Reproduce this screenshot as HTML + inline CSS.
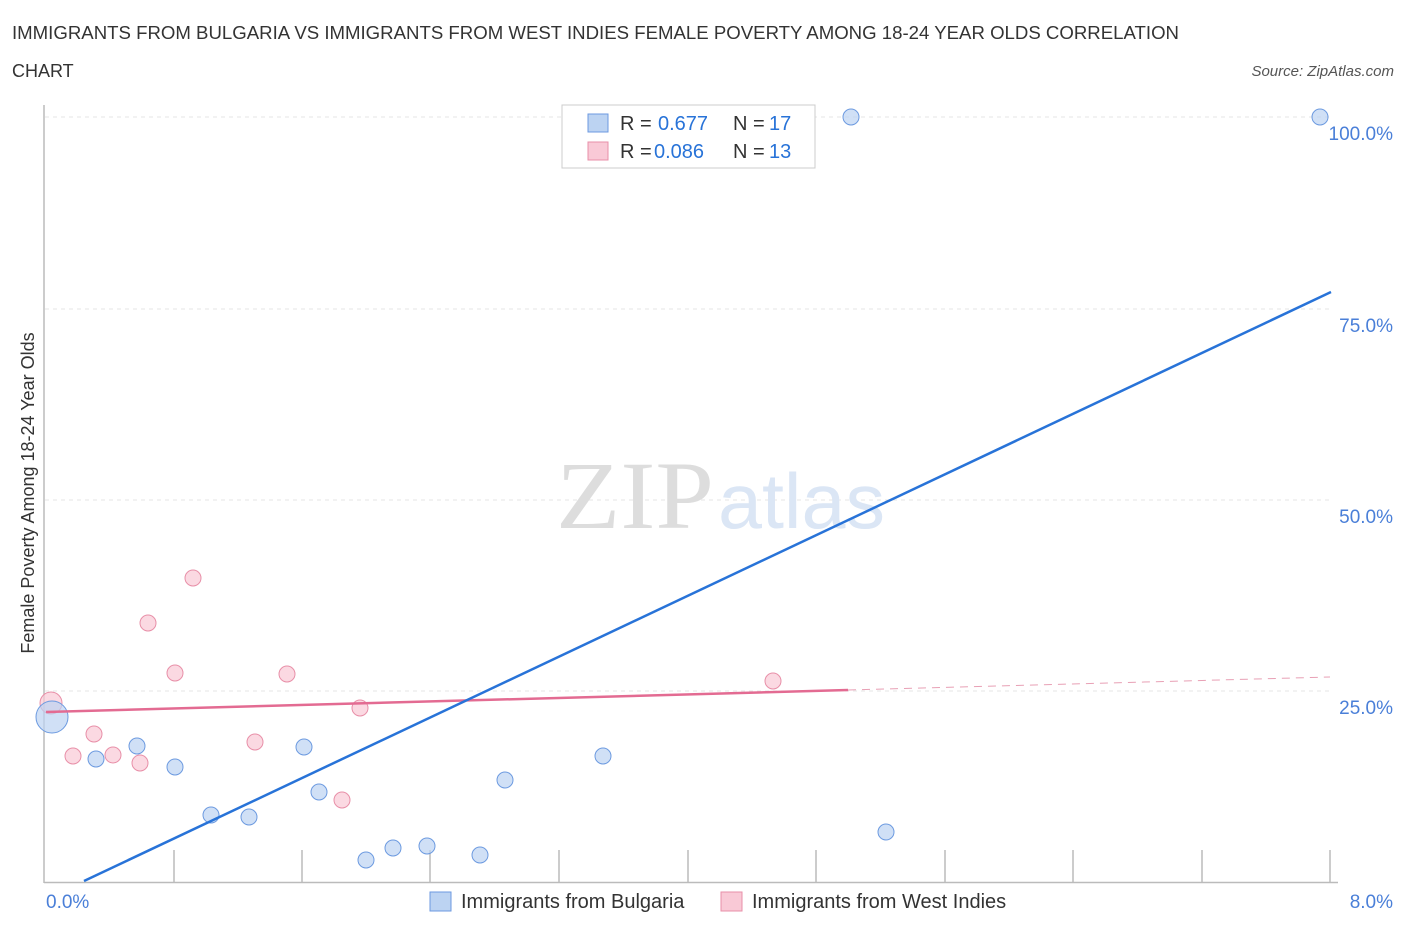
<!DOCTYPE html>
<html><head><meta charset="utf-8"><style>
body{margin:0;background:#fff;font-family:"Liberation Sans",sans-serif}
</style></head><body>
<svg width="1406" height="930" xmlns="http://www.w3.org/2000/svg" font-family="Liberation Sans, sans-serif">
<text x="12" y="39" font-size="18" fill="#333" textLength="1167" lengthAdjust="spacingAndGlyphs">IMMIGRANTS FROM BULGARIA VS IMMIGRANTS FROM WEST INDIES FEMALE POVERTY AMONG 18-24 YEAR OLDS CORRELATION</text>
<text x="12" y="77" font-size="18" fill="#333">CHART</text>
<text x="1394" y="76" font-size="15" fill="#555" font-style="italic" text-anchor="end">Source: ZipAtlas.com</text>
<g stroke="#e6e6e6" stroke-dasharray="4,4">
<line x1="45" y1="117" x2="1330" y2="117"/><line x1="45" y1="309" x2="1330" y2="309"/>
<line x1="45" y1="500" x2="1330" y2="500"/><line x1="45" y1="691" x2="1330" y2="691"/>
</g>
<g stroke="#bbb" stroke-width="1.5">
<line x1="44" y1="105" x2="44" y2="883"/><line x1="44" y1="882.5" x2="1338" y2="882.5"/>
<line x1="174" y1="850" x2="174" y2="882"/><line x1="302" y1="850" x2="302" y2="882"/><line x1="430" y1="850" x2="430" y2="882"/><line x1="559" y1="850" x2="559" y2="882"/><line x1="688" y1="850" x2="688" y2="882"/><line x1="816" y1="850" x2="816" y2="882"/><line x1="945" y1="850" x2="945" y2="882"/><line x1="1073" y1="850" x2="1073" y2="882"/><line x1="1202" y1="850" x2="1202" y2="882"/><line x1="1330" y1="850" x2="1330" y2="882"/>
</g>
<text x="714" y="528" font-size="96" fill="#ddd" text-anchor="end" font-family="Liberation Serif, serif" textLength="158" lengthAdjust="spacingAndGlyphs">ZIP</text>
<text x="718" y="528" font-size="78" fill="#dbe6f5" textLength="167" lengthAdjust="spacingAndGlyphs">atlas</text>
<g fill="#4a7fd8" font-size="19" text-anchor="end">
<text x="1393" y="140">100.0%</text><text x="1393" y="332">75.0%</text><text x="1393" y="523">50.0%</text><text x="1393" y="714">25.0%</text><text x="1393" y="908">8.0%</text>
</g>
<text x="46" y="908" font-size="19" fill="#4a7fd8">0.0%</text>
<text transform="translate(34,493) rotate(-90)" font-size="18" fill="#333" text-anchor="middle">Female Poverty Among 18-24 Year Olds</text>
<g fill="#f9c9d6" fill-opacity="0.7" stroke="#e88fa8" stroke-width="1">
<circle cx="51" cy="703" r="11"/><circle cx="73" cy="756" r="8"/><circle cx="94" cy="734" r="8"/><circle cx="113" cy="755" r="8"/><circle cx="140" cy="763" r="8"/><circle cx="148" cy="623" r="8"/><circle cx="175" cy="673" r="8"/><circle cx="193" cy="578" r="8"/><circle cx="255" cy="742" r="8"/><circle cx="287" cy="674" r="8"/><circle cx="342" cy="800" r="8"/><circle cx="360" cy="708" r="8"/><circle cx="773" cy="681" r="8"/>
</g>
<g fill="#bcd3f2" fill-opacity="0.7" stroke="#6c9ae0" stroke-width="1">
<circle cx="52" cy="717" r="16"/><circle cx="96" cy="759" r="8"/><circle cx="137" cy="746" r="8"/><circle cx="175" cy="767" r="8"/><circle cx="211" cy="815" r="8"/><circle cx="249" cy="817" r="8"/><circle cx="304" cy="747" r="8"/><circle cx="319" cy="792" r="8"/><circle cx="366" cy="860" r="8"/><circle cx="393" cy="848" r="8"/><circle cx="427" cy="846" r="8"/><circle cx="480" cy="855" r="8"/><circle cx="505" cy="780" r="8"/><circle cx="603" cy="756" r="8"/><circle cx="851" cy="117" r="8"/><circle cx="886" cy="832" r="8"/><circle cx="1320" cy="117" r="8"/>
</g>
<line x1="46" y1="712" x2="848" y2="690" stroke="#e36b92" stroke-width="2.5"/>
<line x1="848" y1="690" x2="1330" y2="677" stroke="#e8a0b5" stroke-width="1" stroke-dasharray="8,6"/>
<line x1="84" y1="881" x2="1331" y2="292" stroke="#2873d8" stroke-width="2.5"/>
<rect x="562" y="105" width="253" height="63" fill="#fff" stroke="#ccc"/>
<rect x="588" y="114" width="20" height="18" fill="#bcd3f2" stroke="#6c9ae0"/>
<rect x="588" y="142" width="20" height="18" fill="#f9c9d6" stroke="#e88fa8"/>
<g font-size="20"><text x="620" y="130" fill="#333">R = </text><text x="658" y="130" fill="#2873d8">0.677</text><text x="733" y="130" fill="#333">N = </text><text x="769" y="130" fill="#2873d8">17</text>
<text x="620" y="158" fill="#333">R = </text><text x="654" y="158" fill="#2873d8">0.086</text><text x="733" y="158" fill="#333">N = </text><text x="769" y="158" fill="#2873d8">13</text></g>
<rect x="430" y="892" width="21" height="19" fill="#bcd3f2" stroke="#6c9ae0"/>
<text x="461" y="908" font-size="20" fill="#333">Immigrants from Bulgaria</text>
<rect x="721" y="892" width="21" height="19" fill="#f9c9d6" stroke="#e88fa8"/>
<text x="752" y="908" font-size="20" fill="#333">Immigrants from West Indies</text>
</svg>
</body></html>
